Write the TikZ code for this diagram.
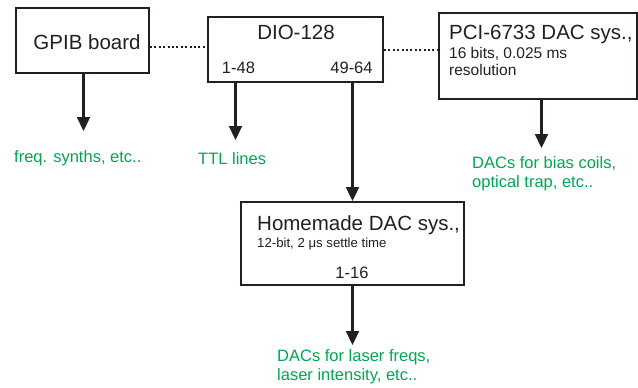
\documentclass[tikz,border=0pt]{standalone}
\usepackage{fontspec}
\setmainfont{Liberation Sans}
\usepackage{tikz}
\usetikzlibrary{arrows,arrows.meta,positioning}
\definecolor{dacgreen}{RGB}{0,166,81}
\definecolor{ink}{RGB}{35,31,32}

\begin{document}
\begin{tikzpicture}
[x=1pt,y=-1pt,
box/.style={draw=ink,line width=1.9pt,inner sep=0pt},
big/.style={inner sep=0pt,font=\fontsize{20.5}{24}\selectfont,text=ink},
mid/.style={inner sep=0pt,font=\fontsize{16.5}{19}\selectfont,text=ink},
small/.style={inner sep=0pt,font=\fontsize{15.5}{18}\selectfont,text=ink},
tiny/.style={inner sep=0pt,font=\fontsize{13.2}{15}\selectfont,text=ink},
note/.style={inner sep=0pt,font=\fontsize{16.5}{19}\selectfont,text=dacgreen,align=left},
arr/.style={draw=ink,line width=2.2pt,-{Triangle[length=14pt,width=13pt]}},
dots/.style={draw=ink,line width=2pt,dash pattern=on 2pt off 2.4pt}]

\useasboundingbox (0,0) rectangle (638,388);

% boxes
\node[box,minimum width=133pt,minimum height=65pt] (gpib) at (82.5,40.5) {};
\node[big,anchor=base] (gpibtxt) at (87,49) {GPIB board};

\node[box,minimum width=175pt,minimum height=65pt] (dio) at (295.5,49.5) {};
\node[big,anchor=base] (diotxt) at (296,39) {DIO-128};
\node[mid,anchor=base] (p148) at (238.5,73) {1-48};
\node[mid,anchor=base] (p4964) at (351.5,73) {49-64};

\node[box,minimum width=198pt,minimum height=86pt] (pci) at (538,56) {};
\node[big,anchor=base west] (pcitxt) at (449,39) {PCI-6733 DAC sys.,};
\node[small,anchor=base west] (pcispec) at (449,58) {16 bits, 0.025 ms};
\node[small,anchor=base west] (pcires) at (449,75) {resolution};

\node[box,minimum width=223pt,minimum height=83pt] (home) at (352.5,243.5) {};
\node[big,anchor=base west] (hometxt) at (257,230) {Homemade DAC sys.,};
\node[tiny,anchor=base west] (homespec) at (257,247) {12-bit, 2 μs settle time};
\node[mid,anchor=base] (p116) at (352,278) {1-16};

% outputs
\node[note,anchor=base west] (freq) at (14,162.5) {freq. synths, etc..};
\node[note,anchor=base west] (ttl) at (198,164) {TTL lines};
\node[note,anchor=north west] (bias) at (472,156) {DACs for bias coils,\\optical trap, etc..};
\node[note,anchor=north west] (laser) at (277,349.7) {DACs for laser freqs,\\laser intensity, etc..};

\coordinate (freqtip) at (83.5,131);
\coordinate (ttltip) at (235.5,140);
\coordinate (biastip) at (541.5,148);
\coordinate (lasertip) at (352,345);
\coordinate (dotrow) at (0,46.5);
\coordinate (dotrow2) at (0,49.5);

% links
\draw[dots] (gpib.east |- dotrow) -- (dio.west |- dotrow);
\draw[dots] (dio.east |- dotrow2) -- (pci.west |- dotrow2);

\draw[arr] (gpib.south -| freqtip) -- (freqtip);
\draw[arr] (dio.south -| ttltip) -- (ttltip);
\draw[arr] (dio.south -| home.north) -- (home.north);
\draw[arr] (pci.south -| biastip) -- (biastip);
\draw[arr] (home.south) -- (home.south |- lasertip);
\end{tikzpicture}
\end{document}
